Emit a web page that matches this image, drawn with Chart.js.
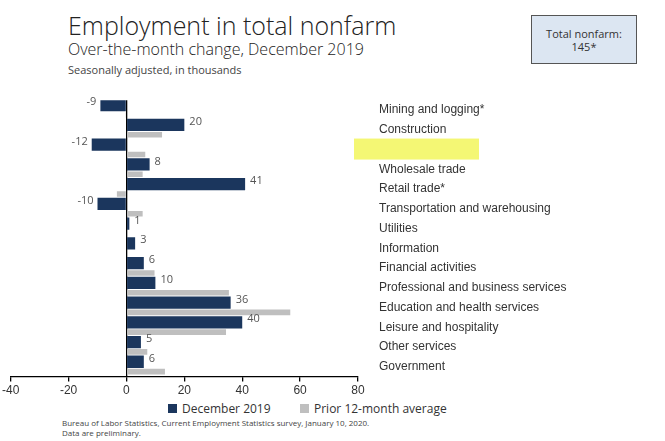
<!DOCTYPE html>
<html><head><meta charset="utf-8">
<script src="https://cdn.jsdelivr.net/npm/chart.js@4"></script>
<style>
body{margin:0;width:665px;height:441px;background:#fff;font-family:"Open Sans",Arial,sans-serif;position:relative;overflow:hidden}
.t{position:absolute;color:#222;white-space:nowrap}
</style></head><body>
<div class="t" style="left:68px;top:8px;font-size:25px;font-weight:300">Employment in total nonfarm</div>
<div class="t" style="left:68px;top:38px;font-size:16px;font-weight:300">Over-the-month change, December 2019</div>
<div class="t" style="left:68px;top:62px;font-size:11px;color:#444">Seasonally adjusted, in thousands</div>
<div style="position:absolute;left:531px;top:15px;width:106px;height:49px;background:#dce6f2;border:1px solid #555;box-sizing:border-box;text-align:center;font-size:11px;color:#333;padding-top:11px;line-height:13px">Total nonfarm:<br>145*</div>
<div style="position:absolute;left:0;top:80px;width:665px;height:320px"><canvas id="c" width="665" height="320"></canvas></div>
<div class="t" style="left:168px;top:400px;font-size:12px;color:#333"><span style="display:inline-block;width:9px;height:9px;background:#1b365d;margin-right:5px"></span>December 2019</div>
<div class="t" style="left:300px;top:400px;font-size:12px;color:#333"><span style="display:inline-block;width:9px;height:9px;background:#bfbfbf;margin-right:5px"></span>Prior 12-month average</div>
<div class="t" style="left:62px;top:418px;font-size:8px;color:#444;line-height:10px">Bureau of Labor Statistics, Current Employment Statistics survey, January 10, 2020.<br>Data are preliminary.</div>
<script>
var industries = ["Mining and logging*","Construction","Manufacturing","Wholesale trade","Retail trade*","Transportation and warehousing","Utilities","Information","Financial activities","Professional and business services","Education and health services","Leisure and hospitality","Other services","Government"];
var dec2019 = [-9,20,-12,8,41,-10,1,3,6,10,36,40,5,6];
var priorAvg = [-0.3,12.3,6.5,5.6,-3.3,5.6,0.2,0.3,9.7,35.4,56.6,34.4,7.2,13.3];
var xTicks = [-40,-20,0,20,40,60,80];

var extras = {
  id: "extras",
  beforeDatasetsDraw: function(chart) {
    var ctx = chart.ctx, y = chart.scales.y;
    var i = industries.indexOf("Manufacturing");
    var yy = y.getPixelForValue(i);
    ctx.save();
    ctx.fillStyle = "#f4f774";
    ctx.fillRect(354, yy - 11, 125, 21);
    ctx.restore();
  },
  afterDatasetsDraw: function(chart) {
    var ctx = chart.ctx, meta = chart.getDatasetMeta(0);
    ctx.save();
    ctx.font = "11px 'Open Sans', sans-serif";
    ctx.fillStyle = "#555";
    ctx.textBaseline = "middle";
    meta.data.forEach(function(bar, i) {
      var v = dec2019[i];
      if (v < 0) { ctx.textAlign = "right"; ctx.fillText(v, bar.x - 4, bar.y - 3); }
      else { ctx.textAlign = "left"; ctx.fillText(v, bar.x + 5, bar.y - 3); }
    });
    ctx.restore();
  }
};

new Chart("c", {
  type: "bar",
  data: {
    labels: industries,
    datasets: [
      {data: dec2019, backgroundColor: "#1b365d", barPercentage: 1.25, categoryPercentage: 1},
      {data: priorAvg, backgroundColor: "#bfbfbf", barPercentage: 0.57, categoryPercentage: 1}
    ]
  },
  options: {
    indexAxis: "y",
    responsive: false,
    animation: false,
    layout: {padding: {left: 8, top: 3, bottom: 0, right: 0}},
    plugins: {legend: {display: false}, tooltip: {enabled: false}},
    scales: {
      x: {
        min: -40, max: 80,
        afterBuildTicks: function(s) { s.ticks = xTicks.map(function(v){return {value: v};}); },
        grid: {
          color: function(c){ return c.tick && c.tick.value === 0 ? "#000" : "rgba(0,0,0,0)"; },
          tickColor: "#000", tickLength: 5, lineWidth: 1.3
        },
        border: {color: "#000", width: 1.3},
        ticks: {color: "#333", font: {size: 12}, padding: 2, maxRotation: 0}
      },
      y: {
        position: "right",
        afterFit: function(s){ s.width = 307; },
        grid: {display: false},
        border: {display: false},
        ticks: {color: "#333", font: {size: 12}, padding: 13}
      }
    }
  },
  plugins: [extras]
});
</script>
</body></html>
